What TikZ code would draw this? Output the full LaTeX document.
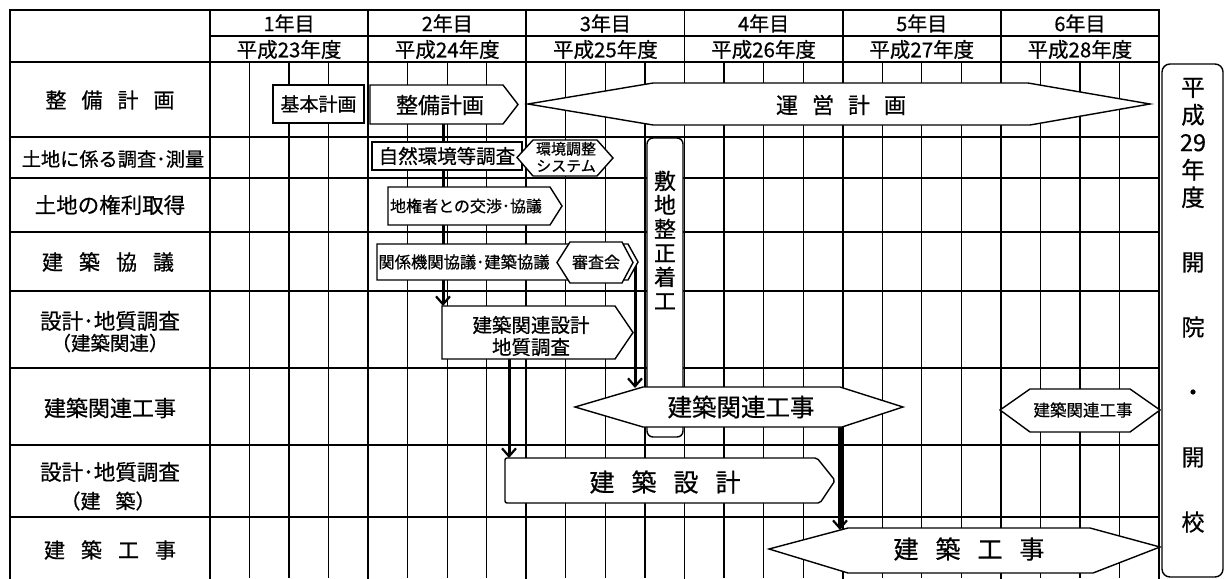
\documentclass[tikz,border=0pt]{standalone}
\usepackage{fontspec}
\setmainfont{Noto Sans CJK JP}[FakeBold=0.6]
\usetikzlibrary{arrows.meta}
\newcommand{\jgap}[1]{\hspace{#1pt}}
\tikzset{
  fs/.style 2 args={font=\fontsize{#1}{#2}\selectfont},
  txt/.style={inner sep=0pt, align=center},
  qline/.style={line width=1.2pt},
  mline/.style={line width=1.8pt, line cap=rect},
  bar/.style={draw, line width=1.4pt, fill=white, line join=miter},
  rbox/.style={draw, line width=1.4pt, fill=white, inner sep=0pt},
  conn/.style={line width=3pt, -{Straight Barb[length=8pt,width=14pt,line width=2.2pt]}},
  connw/.style={line width=3.6pt, -{Straight Barb[length=8pt,width=14pt,line width=2.2pt]}},
}
\begin{document}
\begin{tikzpicture}[x=1pt,y=-1pt]
\useasboundingbox (0,0) rectangle (1225,578);
\fill[white] (0,0) rectangle (1225,578);
% quarter lines
\foreach \i in {1,...,23}{\draw[qline] ({210+39.5425*\i},62) -- ({210+39.5425*\i},578);}
% year lines and outer lines
\foreach \k in {0,...,6}{\draw[mline] ({210+158.17*\k},10) -- ({210+158.17*\k},578);}
\draw[mline] (10,10) -- (10,578);
\draw[mline] (10,10) -- (1159.02,10);
\draw[mline] (210,36) -- (1159.02,36);
\foreach \y in {62,137,178,232,291,368,445,517}{\draw[mline] (10,\y) -- (1159.02,\y);}
% header
\foreach \k/\h in {1/23,2/24,3/25,4/26,5/27,6/28}{
  \node[txt,fs={20}{20}] (yr\k) at ({210+158.17*(\k-0.5)},23.5) {\k 年目};
  \node[txt,fs={20.5}{20}] (hs\k) at ({210+158.17*(\k-0.5)},49.5) {平成\h 年度};
}
% row labels
\node[txt,fs={21}{21}] (r1) at (110,100) {整\jgap{15}備\jgap{15}計\jgap{15}画};
\node[txt,fs={19.2}{19}] (r2) at (113,159) {土地に係る調査･測量};
\node[txt,fs={21.5}{21}] (r3) at (110,205) {土地の権利取得};
\node[txt,fs={21}{21}] (r4) at (108,262) {建\jgap{16}築\jgap{16}協\jgap{16}議};
\node[txt,fs={21.5}{21}] (r5a) at (110,321) {設計･地質調査};
\node[txt,fs={19.5}{19}] (r5b) at (110,343) {（建築関連）};
\node[txt,fs={22}{22}] (r6) at (110,408) {建築関連工事};
\node[txt,fs={21.5}{21}] (r7a) at (110,472) {設計･地質調査};
\node[txt,fs={20}{20}] (r7b) at (108,501) {（建\jgap{15}築）};
\node[txt,fs={21}{21}] (r8) at (110,550) {建\jgap{16}築\jgap{16}工\jgap{16}事};
% connectors (behind the bars)
\coordinate (a1s) at (443,124);
\coordinate (a1e) at (443,306);
\coordinate (a2s) at (635,262);
\coordinate (a2e) at (635,388);
\coordinate (a3s) at (509,359);
\coordinate (a3e) at (509,458);
\coordinate (a4s) at (840,427);
\coordinate (a4e) at (840,530);
\draw[conn] (a1s) -- (a1e);
\draw[conn] (a2s) -- (a2e);
\draw[conn] (a3s) -- (a3e);
\draw[connw] (a4s) -- (a4e);
% bars
\node[rbox,fs={19}{19},minimum width=91,minimum height=38] (kihon) at (318.5,104) {基本計画};
\draw[bar] (370,85) -- (503,85) -- (518,104.5) -- (503,124) -- (370,124) -- cycle;
\node[txt,fs={22}{22}] (seibi) at (440,105) {整備計画};
\draw[bar] (528,104) -- (653,83) -- (1028,83) -- (1150,104) -- (1030,125) -- (653,125) -- cycle;
\node[txt,fs={22}{22}] (unei) at (841,105) {運\jgap{14}営\jgap{14}計\jgap{14}画};
\node[rbox,fs={19.5}{19.5},minimum width=150,minimum height=28] (shizen) at (447,156) {自然環境等調査};
\draw[bar] (517,157.5) -- (533,140) -- (597,140) -- (613,158) -- (597,176) -- (533,176) -- cycle;
\node[txt,fs={15}{17}] (kankyo) at (566,157) {環境調整\\システム};
\draw[bar] (388,187) -- (550,187) -- (562,206) -- (550,225) -- (388,225) -- cycle;
\node[txt,fs={16}{16}] (chiken) at (466,206) {地権者との交渉･協議};
\draw[bar] (377,244) -- (628,244) -- (638,262) -- (628,280) -- (377,280) -- cycle;
\node[txt,fs={16.3}{16}] (kankei) at (464,262) {関係機関協議･建築協議};
\draw[bar] (557,262.5) -- (570,242) -- (622,242) -- (633,262.5) -- (622,283) -- (570,283) -- cycle;
\node[txt,fs={16}{16}] (shinsa) at (596,262) {審査会};
\draw[bar,rounded corners=6] (647,138) rectangle (683,437);
\node[txt,fs={22}{24}] (shikichi) at (665,240) {敷\\地\\整\\正\\着\\工};
\draw[bar] (442,306) -- (615,306) -- (633,332.5) -- (615,359) -- (442,359) -- cycle;
\node[txt,fs={19.5}{22}] (kanrensekkei) at (531,336) {建築関連設計\\地質調査};
\draw[bar] (575,407) -- (643,387) -- (840,387) -- (903,407) -- (842,427) -- (643,427) -- cycle;
\node[txt,fs={24.5}{24}] (kanrenkoji) at (741,407) {建築関連工事};
\draw[bar] (1000,410) -- (1030,389) -- (1130,389) -- (1160,410) -- (1130,432) -- (1030,432) -- cycle;
\node[txt,fs={16.5}{16}] (kanrenkoji2) at (1083,410) {建築関連工事};
\draw[bar,rounded corners=2] (505,458) -- (817,458) -- (835,480.5) -- (820,503) -- (505,503) -- cycle;
\node[txt,fs={25}{25}] (sekkei) at (665,482) {建\jgap{17}築\jgap{17}設\jgap{17}計};
\draw[bar] (769,549) -- (848,528) -- (1090,528) -- (1160,547) -- (1093,573) -- (848,573) -- cycle;
\node[txt,fs={25}{25}] (koji) at (969,549) {建\jgap{17}築\jgap{17}工\jgap{17}事};
% opening box
\draw[bar,rounded corners=8] (1162,64) rectangle (1223,577);
\node[txt,fs={23.5}{27.5}] (open1) at (1193,143) {平\\成\\29\\年\\度};
\node[txt,fs={23}{65}] (open2) at (1193,392.5) {開\\院\\・\\開\\校};
\end{tikzpicture}
\end{document}
